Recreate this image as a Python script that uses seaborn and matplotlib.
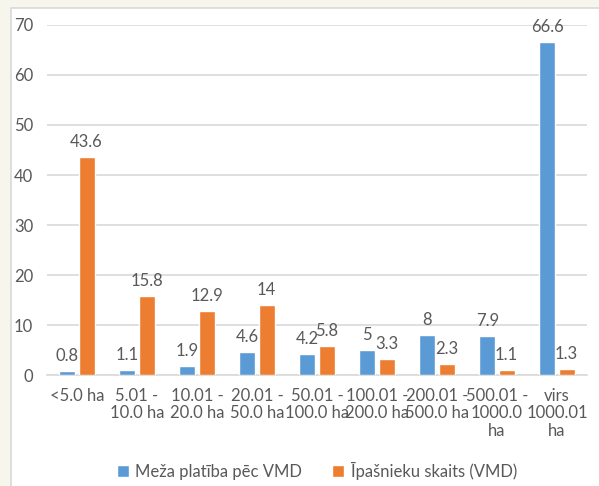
import numpy as np
import pandas as pd
import seaborn as sns
import matplotlib.pyplot as plt
from matplotlib.patches import Rectangle

categories = ['<5.0 ha', '5.01 -\n10.0 ha', '10.01 -\n20.0 ha', '20.01 -\n50.0 ha',
              '50.01 -\n100.0 ha', '100.01 -\n200.0 ha', '200.01 -\n500.0 ha',
              '500.01 -\n1000.0\nha', 'virs\n1000.01\nha']
forest_area = [0.8, 1.1, 1.9, 4.6, 4.2, 5, 8, 7.9, 66.6]
owner_count = [43.6, 15.8, 12.9, 14, 5.8, 3.3, 2.3, 1.1, 1.3]
series = ['Meža platība pēc VMD', 'Īpašnieku skaits (VMD)']
value_labels = [['0.8', '1.1', '1.9', '4.6', '4.2', '5', '8', '7.9', '66.6'],
                ['43.6', '15.8', '12.9', '14', '5.8', '3.3', '2.3', '1.1', '1.3']]

df = pd.DataFrame({
    'cat': categories * 2,
    'val': forest_area + owner_count,
    'series': [series[0]] * len(categories) + [series[1]] * len(categories),
})

sns.set_style('white')
plt.rcParams['font.family'] = ['Lato', 'DejaVu Sans']
text_col = '#595959'
fs = 12

fig = plt.figure(figsize=(5.99, 4.86), dpi=100)
fig.patch.set_facecolor('#f6f6ec')
# white chart area with light border
fig.patches.append(Rectangle((11 / 599, -0.01), 1.0, 1 - 8 / 486 + 0.01,
                             transform=fig.transFigure, facecolor='white',
                             edgecolor='#d9d9d9', linewidth=1.2, zorder=-10))

ax = fig.add_axes([47 / 599, 1 - 375 / 486, 540 / 599, 350 / 486])
ax.set_zorder(1)
sns.barplot(data=df, x='cat', y='val', hue='series', order=categories,
            palette=['#5b9bd5', '#ed7d31'], width=0.64, gap=0.16,
            saturation=1, ax=ax, zorder=3)

ax.set_ylim(0, 70)
ax.set_yticks(np.arange(0, 71, 10))
ax.yaxis.grid(True, color='#d9d9d9', linewidth=1.2, zorder=0)
ax.set_axisbelow(True)
for s in ['top', 'right', 'left']:
    ax.spines[s].set_visible(False)
ax.spines['bottom'].set_color('#d9d9d9')
ax.spines['bottom'].set_linewidth(1.2)
ax.set_facecolor('none')
ax.set_xlabel('')
ax.set_ylabel('')
ax.tick_params(axis='both', length=0, labelsize=fs, colors=text_col)
ax.tick_params(axis='y', pad=10)
ax.tick_params(axis='x', pad=9)
for lbl in ax.get_xticklabels():
    lbl.set_linespacing(1.15)

for cont, labs in zip(ax.containers, value_labels):
    ax.bar_label(cont, labels=labs, padding=5, fontsize=fs, color=text_col)

ax.legend(loc='upper center', bbox_to_anchor=(0.5, -0.205), ncol=2, frameon=False,
          fontsize=fs, labelcolor=text_col, handlelength=0.7, handleheight=0.7,
          handletextpad=0.4, columnspacing=1.8)

fig.savefig('out.png', dpi=100)
